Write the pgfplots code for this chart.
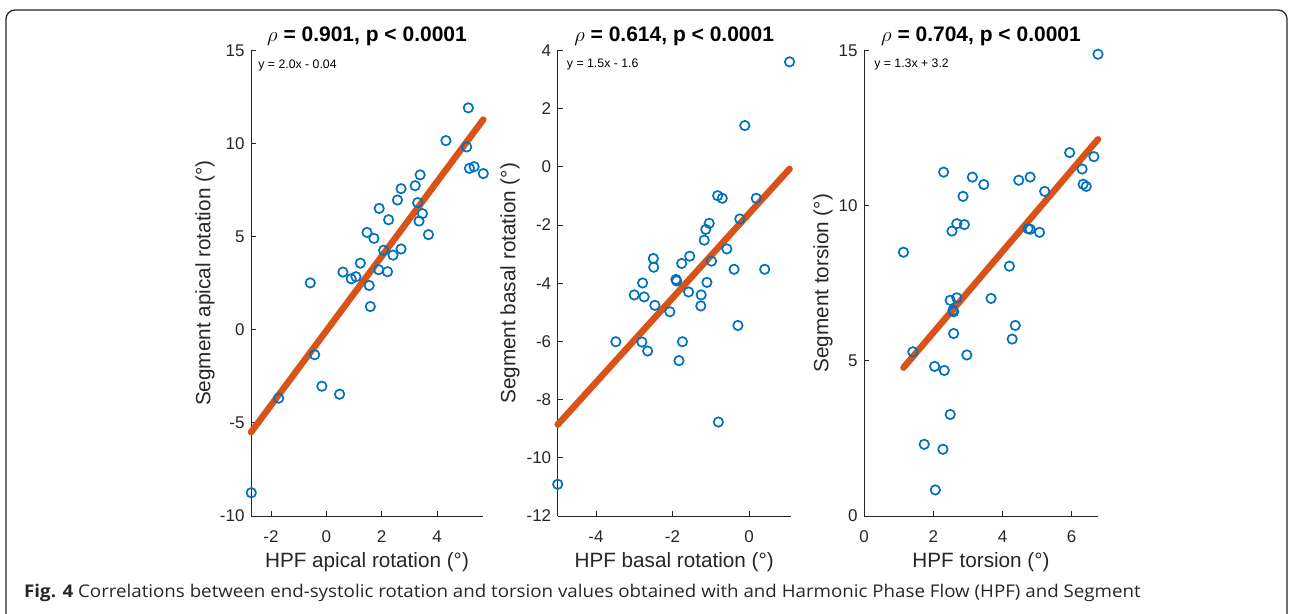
\documentclass[border=0pt]{standalone}
\usepackage{fontspec}
\setmainfont{Liberation Sans}
\newfontfamily\capfont[FakeStretch=1.07]{Open Sans}
\usepackage{pgfplots}
\pgfplotsset{compat=1.18}

\definecolor{mblue}{RGB}{0,114,189}
\definecolor{morange}{RGB}{217,83,25}
\definecolor{mgray}{RGB}{38,38,38}

\pgfplotsset{
  panel/.style={
    scale only axis,
    width=232pt, height=465.5pt,
    axis x line*=bottom, axis y line*=left,
    axis line style={mgray, line width=0.8pt},
    tick align=inside, major tick length=5pt,
    tick style={mgray, line width=0.8pt},
    ticklabel style={font=\fontsize{17}{19}\selectfont, text=mgray},
    xticklabel style={yshift=-11pt},
    yticklabel style={xshift=-3pt},
    label style={font=\fontsize{20.7}{23}\selectfont, text=mgray},
    xlabel style={at={(axis description cs:0.5,-0.099)}, anchor=center},
    title style={font=\fontsize{21}{23}\selectfont\bfseries, at={(axis description cs:0.5,1.018)}, anchor=center},
    clip=false,
  },
  pts/.style={only marks, mark=o, mark size=4.7pt, mblue, line width=1.7pt},
  fit/.style={morange, line width=6.5pt, line cap=round, no marks},
}
\tikzset{eqn/.style={anchor=west, inner sep=0pt, font=\fontsize{12.3}{14}\selectfont, text=black}}

\begin{document}
\begin{tikzpicture}
\useasboundingbox (0,0) rectangle (1290pt,613pt);
\draw[mgray, line width=1.3pt, rounded corners=9pt] (6pt,-20pt) -- (6pt,603pt) -- (1287pt,603pt) -- (1287pt,-20pt);

% panel 1: apical rotation
\begin{axis}[panel, at={(251pt,97pt)}, anchor=south west,
  xmin=-2.72, xmax=5.66, ymin=-10, ymax=15,
  xtick={-2,0,2,4}, xticklabels={-2,0,2,4},
  ytick={-10,-5,0,5,10,15}, yticklabels={-10,-5,0,5,10,15},
  xlabel={HPF apical rotation (°)},
  ylabel={Segment apical rotation (°)},
  ylabel style={at={(axis description cs:-0.198,0.5)}, anchor=center},
  title={$\rho$ = 0.901, p < 0.0001}]
\addplot[pts] coordinates {
 (5.13,11.92) (4.32,10.16) (5.07,9.82) (5.17,8.67) (5.34,8.76) (5.67,8.39)
 (3.39,8.32) (3.21,7.74) (2.70,7.58) (2.57,6.97) (3.30,6.83) (1.91,6.52)
 (2.25,5.91) (3.47,6.24) (3.35,5.84) (3.69,5.11) (1.47,5.23) (1.72,4.91)
 (2.07,4.27) (2.41,4.01) (2.70,4.34) (1.89,3.23) (2.21,3.12) (1.23,3.58)
 (0.60,3.10) (0.90,2.74) (1.07,2.85) (-0.58,2.52) (1.55,2.38) (1.59,1.25)
 (-0.42,-1.34) (-0.16,-3.03) (0.48,-3.46) (-1.72,-3.67) (-2.71,-8.75)
};
\addplot[fit] coordinates {(-2.72,-5.50) (5.67,11.29)};
\node[eqn] at (axis description cs:0.031,0.967) {y = 2.0x - 0.04};
\end{axis}

% panel 2: basal rotation
\begin{axis}[panel, at={(557.7pt,97pt)}, anchor=south west, width=233pt,
  xmin=-5, xmax=1.09, ymin=-12, ymax=4,
  xtick={-4,-2,0}, xticklabels={-4,-2,0},
  ytick={-12,-10,-8,-6,-4,-2,0,2,4}, yticklabels={-12,-10,-8,-6,-4,-2,0,2,4},
  xlabel={HPF basal rotation (°)},
  ylabel={Segment basal rotation (°)},
  ylabel style={at={(axis description cs:-0.205,0.5)}, anchor=center},
  title={$\rho$ = 0.614, p < 0.0001}]
\addplot[pts] coordinates {
 (1.06,3.61) (-0.11,1.42) (-0.82,-0.99) (-0.70,-1.08) (0.19,-1.08) (-0.24,-1.79)
 (-1.04,-1.94) (-1.13,-2.15) (-1.17,-2.52) (-0.58,-2.82) (-1.55,-3.07) (-1.76,-3.32)
 (-2.50,-3.15) (-2.49,-3.45) (-0.98,-3.24) (-0.39,-3.52) (0.41,-3.52) (-1.91,-3.87)
 (-1.89,-3.92) (-2.78,-3.99) (-1.10,-3.97) (-3.00,-4.40) (-2.74,-4.47) (-2.46,-4.76)
 (-2.07,-4.98) (-1.58,-4.30) (-1.25,-4.40) (-1.26,-4.78) (-0.29,-5.45) (-3.48,-6.01)
 (-2.80,-6.02) (-2.65,-6.33) (-1.74,-6.01) (-1.83,-6.66) (-0.80,-8.77) (-5.00,-10.91)
};
\addplot[fit] coordinates {(-5.00,-8.86) (1.06,-0.07)};
\node[eqn] at (axis description cs:0.039,0.971) {y = 1.5x - 1.6};
\end{axis}

% panel 3: torsion
\begin{axis}[panel, at={(864pt,97pt)}, anchor=south west, width=234pt,
  xmin=0, xmax=6.76, ymin=0, ymax=15,
  xtick={0,2,4,6}, xticklabels={0,2,4,6},
  ytick={0,5,10,15}, yticklabels={0,5,10,15},
  xlabel={HPF torsion (°)},
  ylabel={Segment torsion (°)},
  ylabel style={at={(axis description cs:-0.175,0.5)}, anchor=center},
  title={$\rho$ = 0.704, p < 0.0001}]
\addplot[pts] coordinates {
 (6.76,14.88) (5.94,11.71) (6.64,11.58) (6.30,11.18) (6.33,10.69) (6.42,10.62)
 (2.30,11.08) (3.13,10.92) (3.46,10.68) (4.47,10.82) (4.80,10.92) (2.86,10.30)
 (5.22,10.46) (2.68,9.42) (2.54,9.18) (2.90,9.39) (4.74,9.26) (4.80,9.24)
 (5.07,9.14) (1.14,8.50) (4.20,8.05) (3.67,7.01) (2.49,6.95) (2.68,7.03)
 (2.57,6.63) (2.59,6.58) (2.59,5.88) (4.37,6.14) (4.28,5.70) (2.97,5.19)
 (1.41,5.29) (2.04,4.82) (2.32,4.69) (2.49,3.27) (1.74,2.31) (2.28,2.15)
 (2.06,0.84)
};
\addplot[fit] coordinates {(1.14,4.78) (6.76,12.14)};
\node[eqn] at (axis description cs:0.043,0.971) {y = 1.3x + 3.2};
\end{axis}

\node[anchor=base west, inner sep=0pt, font=\capfont\fontsize{17.5}{20}\selectfont, text=mgray] at (24pt,16pt)
  {\textbf{Fig. 4} Correlations between end-systolic rotation and torsion values obtained with and Harmonic Phase Flow (HPF) and Segment};
\end{tikzpicture}
\end{document}
